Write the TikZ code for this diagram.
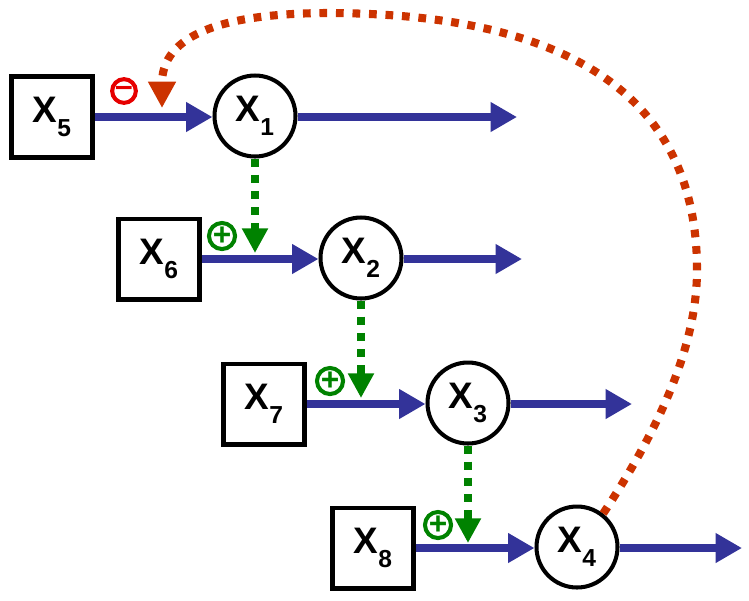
\documentclass[tikz,border=0pt]{standalone}
\usepackage{fontspec}
\setmainfont{Liberation Sans}
\usetikzlibrary{arrows.meta}
\definecolor{flowblue}{RGB}{51,51,153}
\definecolor{actgreen}{RGB}{0,130,0}
\definecolor{inhred}{RGB}{204,51,0}
\definecolor{signred}{RGB}{230,0,0}
\newcommand{\xv}[1]{X\raisebox{-0.7ex}{\fontsize{14}{15}\selectfont #1}}

\begin{document}
\begin{tikzpicture}[x=0.02cm,y=-0.02cm,
   every node/.style={font=\fontsize{21}{23}\selectfont\bfseries},
   inbox/.style={draw,line width=2.3pt,minimum size=1.62cm,inner sep=0pt},
   gene/.style={draw,circle,line width=2.3pt,minimum size=1.62cm,inner sep=0pt},
   flow/.style={flowblue,line width=5pt,-{Triangle[length=15pt,width=16pt]}},
   act/.style={actgreen,line width=4.8pt,dash pattern=on 4.8pt off 4.4pt,-{Triangle[length=14pt,width=14pt]}},
   inh/.style={inhred,line width=4.6pt,dash pattern=on 4.4pt off 5pt,-{Triangle[length=15pt,width=15pt]}},
   sign/.style={draw,circle,line width=2.3pt,minimum size=13.5pt,inner sep=0pt,
      font=\fontsize{18}{18}\selectfont\bfseries}]
\useasboundingbox (0,0) rectangle (749,600);
% inputs and genes
\node[inbox] (x5) at (52,117) {\xv{5}};
\node[gene]  (x1) at (255,116) {\xv{1}};
\node[inbox] (x6) at (159,259) {\xv{6}};
\node[gene]  (x2) at (361,258) {\xv{2}};
\node[inbox] (x7) at (264,404) {\xv{7}};
\node[gene]  (x3) at (468,403) {\xv{3}};
\node[inbox] (x8) at (373,548) {\xv{8}};
\node[gene]  (x4) at (577,547) {\xv{4}};
% free ends
\coordinate (o1) at (517,117);
\coordinate (o2) at (522,259);
\coordinate (o3) at (632,404);
\coordinate (o4) at (742,548);
\coordinate (m1) at (162,108);
\coordinate (m2) at (255,253);
\coordinate (m3) at (361,398);
\coordinate (m4) at (468,543);
% flows
\draw[flow] (x5) -- (x5 -| x1.west);
\draw[flow] (x6) -- (x6 -| x2.west);
\draw[flow] (x7) -- (x7 -| x3.west);
\draw[flow] (x8) -- (x8 -| x4.west);
\draw[flow] (x1.east |- o1) -- (o1);
\draw[flow] (x2.east |- o2) -- (o2);
\draw[flow] (x3.east |- o3) -- (o3);
\draw[flow] (x4.east |- o4) -- (o4);
% regulation
\draw[act] (x1) -- (m2);
\draw[act] (x2) -- (m3);
\draw[act] (x3) -- (m4);
\draw[inh] (x4.52) .. controls (665,420) and (697,340) .. (697,270)
   .. controls (697,90) and (560,14) .. (330,13)
   .. controls (200,13) and (162,45) .. (m1);
% signs
\node[sign,signred] (s1) at (124,91) {--};
\node[sign,actgreen] (s2) at (222,236) {+};
\node[sign,actgreen] (s3) at (330,381) {+};
\node[sign,actgreen] (s4) at (438,525) {+};
\end{tikzpicture}
\end{document}
